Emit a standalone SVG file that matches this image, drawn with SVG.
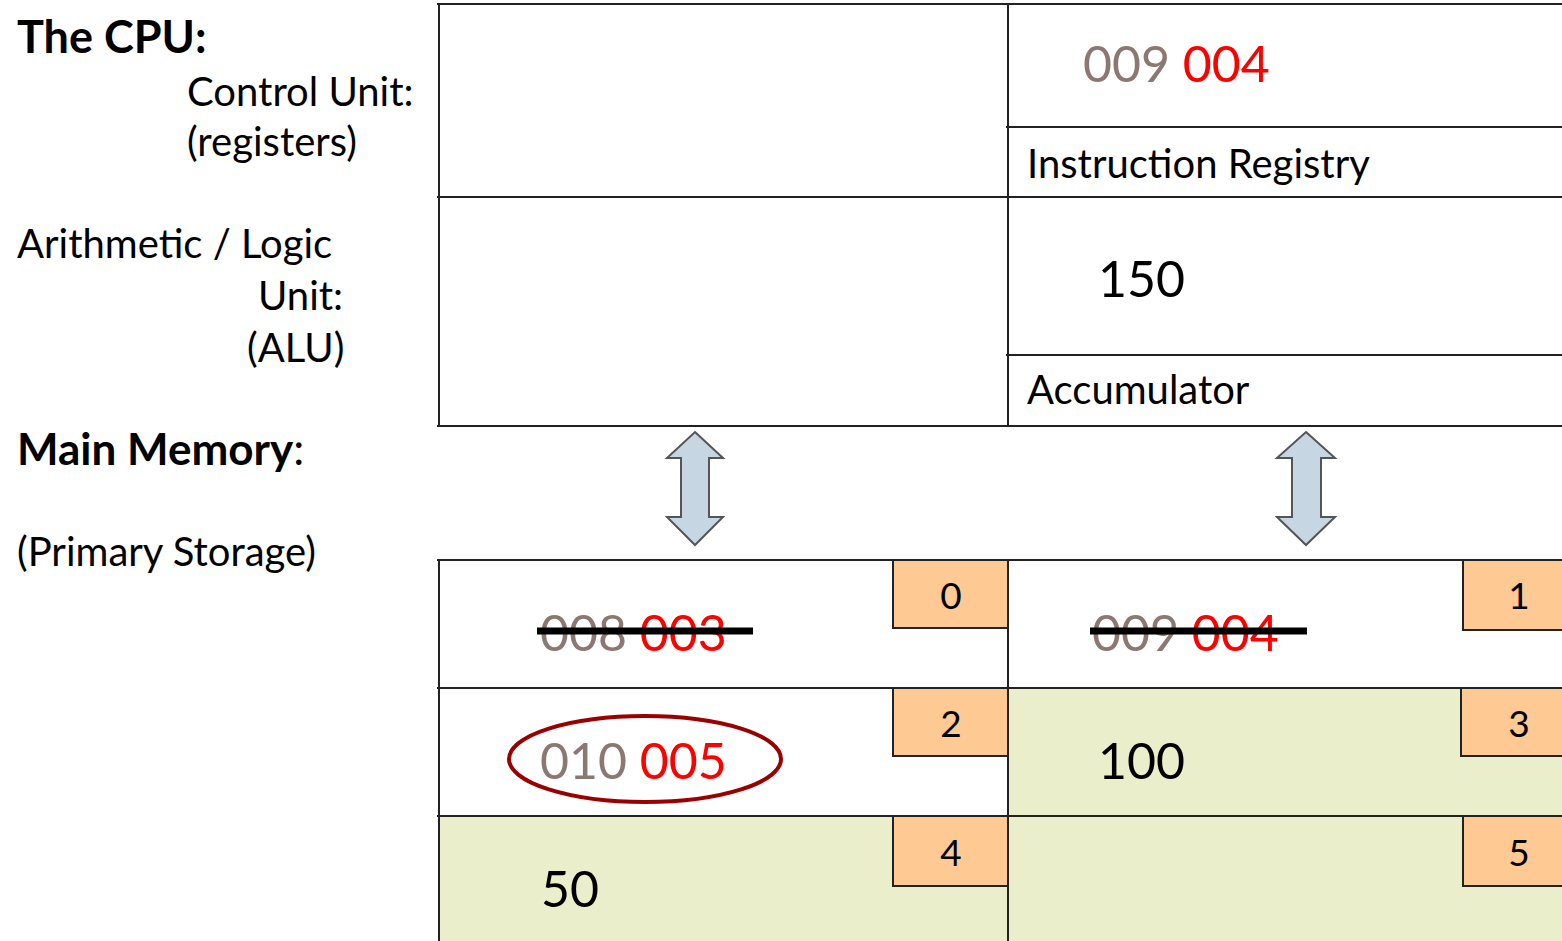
<svg xmlns="http://www.w3.org/2000/svg" width="1562" height="941" viewBox="0 0 1562 941">
<style>
.t{font-family:Lato,"Open Sans","Liberation Sans",sans-serif;fill:#000}
.b{font-weight:bold}
.l{font-size:40px}
.big{font-size:50px}
.num{font-size:37px}
.g{fill:#8C7872}
.r{fill:#FF0000}
.ln{stroke:#222;stroke-width:2;fill:none}
.green{fill:#EBEECB}
.org{fill:#FFC994;stroke:#222;stroke-width:2}
.strike{stroke:#000;stroke-width:7}
.arrow{fill:#C6D6E3;stroke:#555;stroke-width:2;stroke-linejoin:miter}
</style>
<rect width="1562" height="941" fill="#fff"/>
<g id="labels">
<text class="t b" x="17" y="53" font-size="45">The CPU:</text>
<text class="t l" x="187" y="106">Control Unit:</text>
<text class="t l" x="187" y="156">(registers)</text>
<text class="t l" x="17" y="258">Arithmetic / Logic</text>
<text class="t l" x="258" y="310">Unit:</text>
<text class="t l" x="247" y="362">(ALU)</text>
<text class="t b" x="17" y="465" font-size="44">Main Memory<tspan font-weight="normal">:</tspan></text>
<text class="t l" x="17" y="566">(Primary Storage)</text>
</g>
<g id="cpu-table">
<line class="ln" x1="437" y1="4" x2="1562" y2="4"/>
<line class="ln" x1="439" y1="4" x2="439" y2="426"/>
<line class="ln" x1="1008" y1="4" x2="1008" y2="426"/>
<line class="ln" x1="437" y1="197" x2="1562" y2="197"/>
<line class="ln" x1="437" y1="426" x2="1562" y2="426"/>
<line class="ln" x1="1006" y1="127" x2="1562" y2="127"/>
<line class="ln" x1="1006" y1="355" x2="1562" y2="355"/>
</g>
<g id="instruction-register">
<text class="t big" x="1083" y="82"><tspan class="g">009</tspan> <tspan class="r">004</tspan></text>
<text class="t l" x="1027" y="178">Instruction Registry</text>
</g>
<g id="accumulator">
<text class="t big" x="1098" y="297">150</text>
<text class="t l" x="1027" y="404">Accumulator</text>
</g>
<g id="connectors">
<path class="arrow" d="M695,432 L723,458 L709,458 L709,517 L723,517 L695,545 L667,517 L681,517 L681,458 L667,458 Z"/>
<path class="arrow" d="M1306,432 L1335,458 L1321,458 L1321,517 L1335,517 L1306,545 L1277,517 L1292,517 L1292,458 L1277,458 Z"/>
</g>
<g id="memory">
<rect class="green" x="1008" y="688" width="554" height="128"/>
<rect class="green" x="439" y="816" width="569" height="125"/>
<rect class="green" x="1008" y="816" width="554" height="125"/>
<line class="ln" x1="437" y1="560" x2="1562" y2="560"/>
<line class="ln" x1="437" y1="688" x2="1562" y2="688"/>
<line class="ln" x1="437" y1="816" x2="1562" y2="816"/>
<line class="ln" x1="439" y1="560" x2="439" y2="941"/>
<line class="ln" x1="1008" y1="560" x2="1008" y2="941"/>
</g>
<g id="cell-0">
<rect class="org" x="893" y="560" width="115" height="68"/>
<text class="t num" x="951" y="609" text-anchor="middle">0</text>
<text class="t big" x="540" y="651"><tspan class="g">008</tspan> <tspan class="r">003</tspan></text>
<line class="strike" x1="537" y1="631" x2="753" y2="631"/>
</g>
<g id="cell-1">
<rect class="org" x="1463" y="560" width="100" height="70"/>
<text class="t num" x="1519" y="609" text-anchor="middle">1</text>
<text class="t big" x="1092" y="651"><tspan class="g">009</tspan> <tspan class="r">004</tspan></text>
<line class="strike" x1="1090" y1="631" x2="1307" y2="631"/>
</g>
<g id="cell-2">
<rect class="org" x="893" y="688" width="115" height="68"/>
<text class="t num" x="951" y="737" text-anchor="middle">2</text>
<ellipse cx="645" cy="759" rx="136" ry="43" fill="none" stroke="#990000" stroke-width="4"/>
<text class="t big" x="540" y="779"><tspan class="g">010</tspan> <tspan class="r">005</tspan></text>
</g>
<g id="cell-3">
<rect class="org" x="1461" y="688" width="102" height="68"/>
<text class="t num" x="1519" y="737" text-anchor="middle">3</text>
<text class="t big" x="1098" y="779">100</text>
</g>
<g id="cell-4">
<rect class="org" x="893" y="816" width="115" height="70"/>
<text class="t num" x="951" y="866" text-anchor="middle">4</text>
<text class="t big" x="541" y="907">50</text>
</g>
<g id="cell-5">
<rect class="org" x="1463" y="816" width="100" height="70"/>
<text class="t num" x="1519" y="866" text-anchor="middle">5</text>
</g>
</svg>
